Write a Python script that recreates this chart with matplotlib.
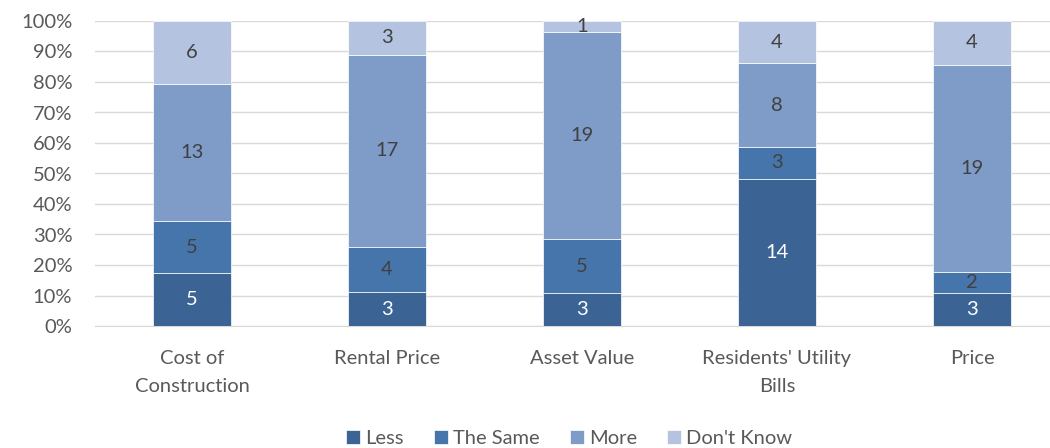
import matplotlib.pyplot as plt
import numpy as np

categories = ["Cost of\nConstruction", "Rental Price", "Asset Value",
              "Residents' Utility\nBills", "Price"]
series = ["Less", "The Same", "More", "Don't Know"]
less = [5, 3, 3, 14, 3]
same = [5, 4, 5, 3, 2]
more = [13, 17, 19, 8, 19]
dont_know = [6, 3, 1, 4, 4]

colors = ["#3B6495", "#4675AC", "#7F9CC8", "#B4C3DF"]
label_colors = ["white", "#404040", "#404040", "#404040"]

plt.rcParams['font.family'] = ['Lato', 'DejaVu Sans']

fig = plt.figure(figsize=(10.5, 4.48), dpi=100)
ax = fig.add_axes([94.5 / 1050, 122 / 448, 955.5 / 1050, 305 / 448])

data = np.array([less, same, more, dont_know], dtype=float)
totals = data.sum(axis=0)
pct = data / totals * 100
x = np.arange(len(categories))
bottom = np.zeros(len(categories))
for i, name in enumerate(series):
    bars = ax.bar(x, pct[i], 0.4, bottom=bottom, color=colors[i], label=name,
                  edgecolor='white', linewidth=0.5, zorder=3)
    ax.bar_label(bars, labels=[str(int(v)) for v in data[i]], label_type='center',
                 color=label_colors[i], fontsize=14.5)
    bottom += pct[i]

ax.set_xlim(-0.5, 4.4)
ax.set_ylim(0, 100)
ax.set_yticks(np.arange(0, 101, 10))
ax.set_yticklabels([f"{v}%" for v in range(0, 101, 10)])
ax.set_xticks(x)
ax.set_xticklabels(categories, linespacing=1.8)
ax.grid(axis='y', color='#D9D9D9', linewidth=1, zorder=0)
for s in ['top', 'right', 'left']:
    ax.spines[s].set_visible(False)
ax.spines['bottom'].set_color('#D9D9D9')
ax.tick_params(axis='both', length=0, labelsize=14.5, colors='#595959')
ax.tick_params(axis='y', pad=16)
ax.tick_params(axis='x', pad=17)

ax.legend(loc='lower center', bbox_to_anchor=(0.5 - 3 / 955.5, -0.455), ncol=4,
          frameon=False, fontsize=14.5, handlelength=0.7, handleheight=0.7,
          handletextpad=0.25, columnspacing=1.5, labelcolor='#595959')

fig.savefig('out.png', dpi=100)
